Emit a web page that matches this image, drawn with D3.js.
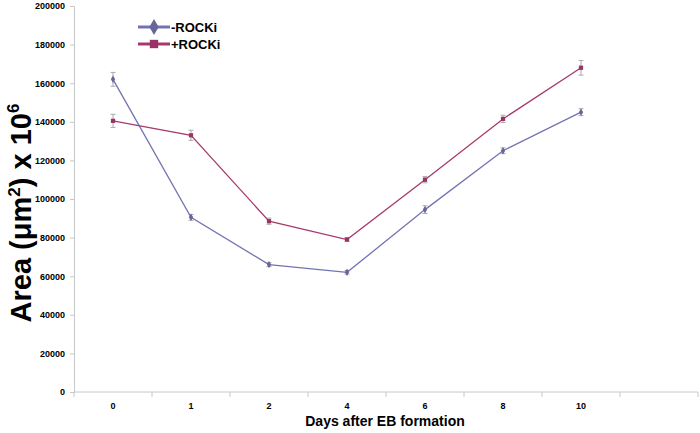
<!DOCTYPE html>
<html><head><meta charset="utf-8">
<script src="https://cdn.jsdelivr.net/npm/d3@7"></script>
<style>body{margin:0;background:#fff}svg{display:block}text{font-family:Arial,"Liberation Sans",sans-serif}</style>
</head><body><div id="c"></div>
<script>
const categories = ["0","1","2","4","6","8","10",""];
const minusVals = [162000, 90500, 66000, 62000, 94500, 125000, 145000];
const minusErr  = [3600, 1500, 1000, 900, 2000, 1500, 1800];
const plusVals  = [140500, 133000, 88500, 79000, 110000, 141500, 168000];
const plusErr   = [3400, 2600, 1600, 1000, 1600, 1900, 3800];
const yTicks = [0,20000,40000,60000,80000,100000,120000,140000,160000,180000,200000];

const W=700,H=433;
const m={l:74,r:2,t:6,b:41};
const svg=d3.select("#c").append("svg").attr("width",W).attr("height",H);
const x=d3.scaleBand().domain(categories.map((c,i)=>i)).range([m.l,W-m.r]);
const y=d3.scaleLinear().domain([0,200000]).range([H-m.b,m.t]);

// y axis
const ya=svg.append("g").attr("transform",`translate(${m.l},0)`)
  .call(d3.axisLeft(y).tickValues(yTicks).tickSize(4).tickPadding(5).tickFormat(d=>String(d)));
ya.select(".domain").attr("stroke","#c8c8c8");
ya.selectAll(".tick line").attr("stroke","#c8c8c8");
ya.selectAll("text").attr("font-size",9).attr("font-weight","bold").attr("fill","#000");

// x axis
const xa=svg.append("g").attr("transform",`translate(0,${H-m.b})`);
xa.append("line").attr("x1",m.l).attr("x2",W-m.r).attr("stroke","#c8c8c8");
const bounds=d3.range(categories.length+1).map(i=>m.l+i*x.step());
xa.selectAll("line.t").data(bounds).join("line").attr("class","t")
  .attr("x1",d=>d).attr("x2",d=>d).attr("y1",0).attr("y2",5).attr("stroke","#c8c8c8");
xa.selectAll("text").data(categories).join("text")
  .attr("x",(d,i)=>x(i)+x.bandwidth()/2).attr("y",17).attr("text-anchor","middle")
  .attr("font-size",9).attr("font-weight","bold").text(d=>d);

function series(vals,errs,color,lineColor,shape){
  const g=svg.append("g");
  const cx=i=>x(i)+x.bandwidth()/2;
  vals.forEach((v,i)=>{
    const e=errs[i];
    g.append("line").attr("x1",cx(i)).attr("x2",cx(i)).attr("y1",y(v-e)).attr("y2",y(v+e)).attr("stroke","#aaa").attr("stroke-width",1);
    [v-e,v+e].forEach(t=>g.append("line").attr("x1",cx(i)-2.5).attr("x2",cx(i)+2.5).attr("y1",y(t)).attr("y2",y(t)).attr("stroke","#aaa").attr("stroke-width",1));
  });
  g.append("path").datum(vals).attr("fill","none").attr("stroke",lineColor).attr("stroke-width",1.3)
    .attr("d",d3.line().x((d,i)=>cx(i)).y(d=>y(d)));
  g.selectAll("path.m").data(vals).join("path").attr("class","m")
    .attr("transform",(d,i)=>`translate(${cx(i)},${y(d)})`)
    .attr("d",d3.symbol().type(shape).size(shape===d3.symbolSquare?18:16)).attr("fill",color);
}
series(minusVals,minusErr,"#666699","#7373b3",d3.symbolDiamond);
series(plusVals,plusErr,"#993366","#a63a6e",d3.symbolSquare);

// legend
const leg=[{t:"-ROCKi",c:"#666699",lc:"#7373b3",s:d3.symbolDiamond,y:27},{t:"+ROCKi",c:"#993366",lc:"#a63a6e",s:d3.symbolSquare,y:44}];
leg.forEach(l=>{
  svg.append("line").attr("x1",138).attr("x2",170).attr("y1",l.y).attr("y2",l.y).attr("stroke",l.lc).attr("stroke-width",3);
  svg.append("path").attr("transform",`translate(154,${l.y})`).attr("d",d3.symbol().type(l.s).size(l.s===d3.symbolSquare?70:75)).attr("fill",l.c);
  svg.append("text").attr("x",171).attr("y",l.y+4.5).attr("font-size",13).attr("font-weight","bold").text(l.t);
});

// axis titles
svg.append("text").attr("x",385).attr("y",426).attr("text-anchor","middle").attr("font-size",14).attr("font-weight","bold").text("Days after EB formation");
const yt=svg.append("text").attr("transform","translate(31,213) rotate(-90)").attr("text-anchor","middle").attr("font-size",29).attr("font-weight","bold");
yt.append("tspan").text("Area (μm");
yt.append("tspan").attr("font-size",17).attr("dy",-11).text("2");
yt.append("tspan").attr("dy",11).text(") x 10");
yt.append("tspan").attr("font-size",17).attr("dy",-12).text("6");
</script></body></html>
